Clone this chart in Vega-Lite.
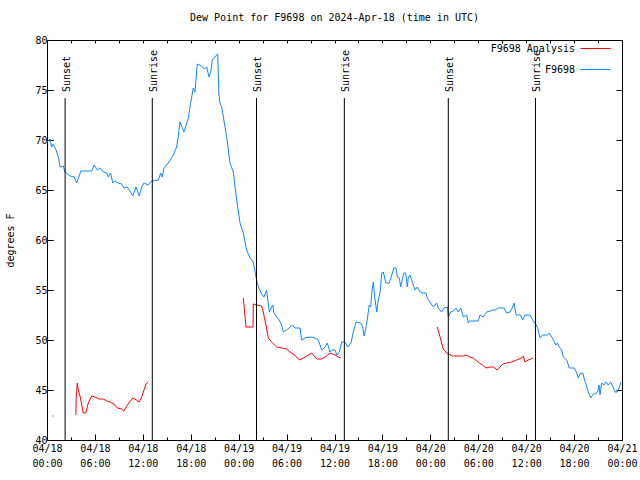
{
"$schema": "https://vega.github.io/schema/vega-lite/v6.json",
"width": 575, "height": 400,
"autosize": "none",
"padding": {"left": 47, "top": 40, "right": 18, "bottom": 40},
"background": "white",
"config": {"view": {"stroke": "#000", "strokeWidth": 1}, "font": "DejaVu Sans Mono",
  "axis": {"labelFont": "DejaVu Sans Mono", "labelFontSize": 10, "labelColor": "#000", "tickColor": "#000", "domain": false, "grid": false, "titleFont": "DejaVu Sans Mono", "titleFontSize": 10, "titleFontWeight": "normal", "titleColor": "#000"}},
"title": {"text": "Dew Point for F9698 on 2024-Apr-18 (time in UTC)", "fontSize": 10, "fontWeight": "normal", "font": "DejaVu Sans Mono", "color": "#000", "offset": 10},
"datasets": {
"obs": [
{"t":"2024-04-18T00:00:00Z","v":69.8,"s":"F9698","g":"b"},
{"t":"2024-04-18T00:23:00Z","v":70.1,"s":"F9698","g":"b"},
{"t":"2024-04-18T00:35:00Z","v":69.3,"s":"F9698","g":"b"},
{"t":"2024-04-18T00:47:00Z","v":69.6,"s":"F9698","g":"b"},
{"t":"2024-04-18T01:08:00Z","v":69.0,"s":"F9698","g":"b"},
{"t":"2024-04-18T01:25:00Z","v":68.3,"s":"F9698","g":"b"},
{"t":"2024-04-18T01:38:00Z","v":67.3,"s":"F9698","g":"b"},
{"t":"2024-04-18T02:02:00Z","v":67.4,"s":"F9698","g":"b"},
{"t":"2024-04-18T02:15:00Z","v":66.8,"s":"F9698","g":"b"},
{"t":"2024-04-18T02:53:00Z","v":66.4,"s":"F9698","g":"b"},
{"t":"2024-04-18T03:25:00Z","v":66.3,"s":"F9698","g":"b"},
{"t":"2024-04-18T03:43:00Z","v":65.7,"s":"F9698","g":"b"},
{"t":"2024-04-18T04:15:00Z","v":66.9,"s":"F9698","g":"b"},
{"t":"2024-04-18T05:36:00Z","v":66.9,"s":"F9698","g":"b"},
{"t":"2024-04-18T05:55:00Z","v":67.5,"s":"F9698","g":"b"},
{"t":"2024-04-18T06:18:00Z","v":67.0,"s":"F9698","g":"b"},
{"t":"2024-04-18T06:38:00Z","v":67.2,"s":"F9698","g":"b"},
{"t":"2024-04-18T07:03:00Z","v":66.8,"s":"F9698","g":"b"},
{"t":"2024-04-18T07:29:00Z","v":66.7,"s":"F9698","g":"b"},
{"t":"2024-04-18T07:41:00Z","v":66.3,"s":"F9698","g":"b"},
{"t":"2024-04-18T07:58:00Z","v":66.7,"s":"F9698","g":"b"},
{"t":"2024-04-18T08:14:00Z","v":65.7,"s":"F9698","g":"b"},
{"t":"2024-04-18T08:31:00Z","v":65.9,"s":"F9698","g":"b"},
{"t":"2024-04-18T08:56:00Z","v":65.7,"s":"F9698","g":"b"},
{"t":"2024-04-18T09:21:00Z","v":65.6,"s":"F9698","g":"b"},
{"t":"2024-04-18T09:38:00Z","v":65.2,"s":"F9698","g":"b"},
{"t":"2024-04-18T10:03:00Z","v":65.3,"s":"F9698","g":"b"},
{"t":"2024-04-18T10:24:00Z","v":64.9,"s":"F9698","g":"b"},
{"t":"2024-04-18T10:44:00Z","v":64.4,"s":"F9698","g":"b"},
{"t":"2024-04-18T11:09:00Z","v":65.3,"s":"F9698","g":"b"},
{"t":"2024-04-18T11:33:00Z","v":64.4,"s":"F9698","g":"b"},
{"t":"2024-04-18T11:51:00Z","v":65.3,"s":"F9698","g":"b"},
{"t":"2024-04-18T12:09:00Z","v":65.7,"s":"F9698","g":"b"},
{"t":"2024-04-18T12:41:00Z","v":65.5,"s":"F9698","g":"b"},
{"t":"2024-04-18T13:07:00Z","v":65.9,"s":"F9698","g":"b"},
{"t":"2024-04-18T13:56:00Z","v":66.0,"s":"F9698","g":"b"},
{"t":"2024-04-18T14:14:00Z","v":66.7,"s":"F9698","g":"b"},
{"t":"2024-04-18T14:26:00Z","v":66.3,"s":"F9698","g":"b"},
{"t":"2024-04-18T14:39:00Z","v":67.2,"s":"F9698","g":"b"},
{"t":"2024-04-18T15:11:00Z","v":67.7,"s":"F9698","g":"b"},
{"t":"2024-04-18T15:49:00Z","v":68.5,"s":"F9698","g":"b"},
{"t":"2024-04-18T16:14:00Z","v":69.3,"s":"F9698","g":"b"},
{"t":"2024-04-18T16:26:00Z","v":70.3,"s":"F9698","g":"b"},
{"t":"2024-04-18T16:39:00Z","v":71.8,"s":"F9698","g":"b"},
{"t":"2024-04-18T17:09:00Z","v":70.8,"s":"F9698","g":"b"},
{"t":"2024-04-18T17:42:00Z","v":72.2,"s":"F9698","g":"b"},
{"t":"2024-04-18T17:54:00Z","v":73.3,"s":"F9698","g":"b"},
{"t":"2024-04-18T18:19:00Z","v":75.2,"s":"F9698","g":"b"},
{"t":"2024-04-18T18:32:00Z","v":74.8,"s":"F9698","g":"b"},
{"t":"2024-04-18T18:49:00Z","v":77.6,"s":"F9698","g":"b"},
{"t":"2024-04-18T19:22:00Z","v":77.4,"s":"F9698","g":"b"},
{"t":"2024-04-18T19:42:00Z","v":77.1,"s":"F9698","g":"b"},
{"t":"2024-04-18T20:00:00Z","v":77.3,"s":"F9698","g":"b"},
{"t":"2024-04-18T20:17:00Z","v":76.3,"s":"F9698","g":"b"},
{"t":"2024-04-18T20:30:00Z","v":76.8,"s":"F9698","g":"b"},
{"t":"2024-04-18T20:42:00Z","v":78.0,"s":"F9698","g":"b"},
{"t":"2024-04-18T21:02:00Z","v":78.3,"s":"F9698","g":"b"},
{"t":"2024-04-18T21:15:00Z","v":78.5,"s":"F9698","g":"b"},
{"t":"2024-04-18T21:22:00Z","v":78.6,"s":"F9698","g":"b"},
{"t":"2024-04-18T21:32:00Z","v":74.5,"s":"F9698","g":"b"},
{"t":"2024-04-18T21:40:00Z","v":73.7,"s":"F9698","g":"b"},
{"t":"2024-04-18T21:53:00Z","v":73.3,"s":"F9698","g":"b"},
{"t":"2024-04-18T22:05:00Z","v":72.3,"s":"F9698","g":"b"},
{"t":"2024-04-18T22:30:00Z","v":70.3,"s":"F9698","g":"b"},
{"t":"2024-04-18T22:55:00Z","v":67.7,"s":"F9698","g":"b"},
{"t":"2024-04-18T23:20:00Z","v":66.8,"s":"F9698","g":"b"},
{"t":"2024-04-18T23:45:00Z","v":64.0,"s":"F9698","g":"b"},
{"t":"2024-04-19T00:05:00Z","v":62.2,"s":"F9698","g":"b"},
{"t":"2024-04-19T00:10:00Z","v":61.7,"s":"F9698","g":"b"},
{"t":"2024-04-19T00:35:00Z","v":60.7,"s":"F9698","g":"b"},
{"t":"2024-04-19T01:00:00Z","v":59.0,"s":"F9698","g":"b"},
{"t":"2024-04-19T01:25:00Z","v":58.2,"s":"F9698","g":"b"},
{"t":"2024-04-19T01:50:00Z","v":57.8,"s":"F9698","g":"b"},
{"t":"2024-04-19T02:10:00Z","v":56.3,"s":"F9698","g":"b"},
{"t":"2024-04-19T02:28:00Z","v":55.3,"s":"F9698","g":"b"},
{"t":"2024-04-19T02:53:00Z","v":54.6,"s":"F9698","g":"b"},
{"t":"2024-04-19T03:10:00Z","v":54.3,"s":"F9698","g":"b"},
{"t":"2024-04-19T03:30:00Z","v":55.0,"s":"F9698","g":"b"},
{"t":"2024-04-19T03:50:00Z","v":52.8,"s":"F9698","g":"b"},
{"t":"2024-04-19T04:16:00Z","v":53.5,"s":"F9698","g":"b"},
{"t":"2024-04-19T04:25:00Z","v":52.7,"s":"F9698","g":"b"},
{"t":"2024-04-19T04:46:00Z","v":52.3,"s":"F9698","g":"b"},
{"t":"2024-04-19T05:05:00Z","v":52.0,"s":"F9698","g":"b"},
{"t":"2024-04-19T05:23:00Z","v":51.5,"s":"F9698","g":"b"},
{"t":"2024-04-19T05:35:00Z","v":50.8,"s":"F9698","g":"b"},
{"t":"2024-04-19T06:01:00Z","v":51.0,"s":"F9698","g":"b"},
{"t":"2024-04-19T06:26:00Z","v":51.3,"s":"F9698","g":"b"},
{"t":"2024-04-19T06:46:00Z","v":51.5,"s":"F9698","g":"b"},
{"t":"2024-04-19T07:03:00Z","v":51.2,"s":"F9698","g":"b"},
{"t":"2024-04-19T07:41:00Z","v":51.2,"s":"F9698","g":"b"},
{"t":"2024-04-19T07:53:00Z","v":50.0,"s":"F9698","g":"b"},
{"t":"2024-04-19T08:18:00Z","v":50.2,"s":"F9698","g":"b"},
{"t":"2024-04-19T08:56:00Z","v":50.3,"s":"F9698","g":"b"},
{"t":"2024-04-19T09:33:00Z","v":50.2,"s":"F9698","g":"b"},
{"t":"2024-04-19T09:58:00Z","v":50.0,"s":"F9698","g":"b"},
{"t":"2024-04-19T10:24:00Z","v":49.0,"s":"F9698","g":"b"},
{"t":"2024-04-19T10:49:00Z","v":49.3,"s":"F9698","g":"b"},
{"t":"2024-04-19T11:06:00Z","v":49.7,"s":"F9698","g":"b"},
{"t":"2024-04-19T11:26:00Z","v":48.8,"s":"F9698","g":"b"},
{"t":"2024-04-19T11:39:00Z","v":49.0,"s":"F9698","g":"b"},
{"t":"2024-04-19T12:04:00Z","v":49.0,"s":"F9698","g":"b"},
{"t":"2024-04-19T12:17:00Z","v":48.5,"s":"F9698","g":"b"},
{"t":"2024-04-19T12:36:00Z","v":48.8,"s":"F9698","g":"b"},
{"t":"2024-04-19T12:54:00Z","v":49.8,"s":"F9698","g":"b"},
{"t":"2024-04-19T13:19:00Z","v":49.8,"s":"F9698","g":"b"},
{"t":"2024-04-19T13:39:00Z","v":49.3,"s":"F9698","g":"b"},
{"t":"2024-04-19T14:04:00Z","v":49.7,"s":"F9698","g":"b"},
{"t":"2024-04-19T14:21:00Z","v":50.8,"s":"F9698","g":"b"},
{"t":"2024-04-19T14:42:00Z","v":51.8,"s":"F9698","g":"b"},
{"t":"2024-04-19T15:17:00Z","v":51.7,"s":"F9698","g":"b"},
{"t":"2024-04-19T15:32:00Z","v":51.3,"s":"F9698","g":"b"},
{"t":"2024-04-19T15:42:00Z","v":50.4,"s":"F9698","g":"b"},
{"t":"2024-04-19T15:57:00Z","v":51.3,"s":"F9698","g":"b"},
{"t":"2024-04-19T16:06:00Z","v":52.0,"s":"F9698","g":"b"},
{"t":"2024-04-19T16:21:00Z","v":53.5,"s":"F9698","g":"b"},
{"t":"2024-04-19T16:32:00Z","v":53.3,"s":"F9698","g":"b"},
{"t":"2024-04-19T16:42:00Z","v":55.0,"s":"F9698","g":"b"},
{"t":"2024-04-19T16:52:00Z","v":55.8,"s":"F9698","g":"b"},
{"t":"2024-04-19T17:02:00Z","v":54.3,"s":"F9698","g":"b"},
{"t":"2024-04-19T17:17:00Z","v":52.8,"s":"F9698","g":"b"},
{"t":"2024-04-19T17:29:00Z","v":54.0,"s":"F9698","g":"b"},
{"t":"2024-04-19T17:42:00Z","v":54.7,"s":"F9698","g":"b"},
{"t":"2024-04-19T17:55:00Z","v":56.7,"s":"F9698","g":"b"},
{"t":"2024-04-19T18:07:00Z","v":56.8,"s":"F9698","g":"b"},
{"t":"2024-04-19T18:25:00Z","v":55.7,"s":"F9698","g":"b"},
{"t":"2024-04-19T18:52:00Z","v":55.7,"s":"F9698","g":"b"},
{"t":"2024-04-19T19:10:00Z","v":56.5,"s":"F9698","g":"b"},
{"t":"2024-04-19T19:27:00Z","v":57.2,"s":"F9698","g":"b"},
{"t":"2024-04-19T19:42:00Z","v":57.2,"s":"F9698","g":"b"},
{"t":"2024-04-19T19:52:00Z","v":56.3,"s":"F9698","g":"b"},
{"t":"2024-04-19T20:07:00Z","v":56.2,"s":"F9698","g":"b"},
{"t":"2024-04-19T20:17:00Z","v":55.3,"s":"F9698","g":"b"},
{"t":"2024-04-19T20:32:00Z","v":56.2,"s":"F9698","g":"b"},
{"t":"2024-04-19T20:42:00Z","v":56.7,"s":"F9698","g":"b"},
{"t":"2024-04-19T20:55:00Z","v":56.7,"s":"F9698","g":"b"},
{"t":"2024-04-19T21:07:00Z","v":55.3,"s":"F9698","g":"b"},
{"t":"2024-04-19T21:14:00Z","v":56.2,"s":"F9698","g":"b"},
{"t":"2024-04-19T21:27:00Z","v":56.5,"s":"F9698","g":"b"},
{"t":"2024-04-19T21:47:00Z","v":55.7,"s":"F9698","g":"b"},
{"t":"2024-04-19T22:05:00Z","v":55.0,"s":"F9698","g":"b"},
{"t":"2024-04-19T22:22:00Z","v":55.3,"s":"F9698","g":"b"},
{"t":"2024-04-19T22:42:00Z","v":54.8,"s":"F9698","g":"b"},
{"t":"2024-04-19T23:03:00Z","v":54.7,"s":"F9698","g":"b"},
{"t":"2024-04-19T23:27:00Z","v":54.7,"s":"F9698","g":"b"},
{"t":"2024-04-19T23:37:00Z","v":54.2,"s":"F9698","g":"b"},
{"t":"2024-04-19T23:57:00Z","v":53.8,"s":"F9698","g":"b"},
{"t":"2024-04-20T00:22:00Z","v":53.3,"s":"F9698","g":"b"},
{"t":"2024-04-20T00:48:00Z","v":53.7,"s":"F9698","g":"b"},
{"t":"2024-04-20T01:00:00Z","v":53.2,"s":"F9698","g":"b"},
{"t":"2024-04-20T01:25:00Z","v":52.8,"s":"F9698","g":"b"},
{"t":"2024-04-20T01:43:00Z","v":53.2,"s":"F9698","g":"b"},
{"t":"2024-04-20T02:08:00Z","v":53.3,"s":"F9698","g":"b"},
{"t":"2024-04-20T02:15:00Z","v":52.3,"s":"F9698","g":"b"},
{"t":"2024-04-20T02:33:00Z","v":52.8,"s":"F9698","g":"b"},
{"t":"2024-04-20T02:53:00Z","v":52.9,"s":"F9698","g":"b"},
{"t":"2024-04-20T03:13:00Z","v":53.2,"s":"F9698","g":"b"},
{"t":"2024-04-20T03:30:00Z","v":52.8,"s":"F9698","g":"b"},
{"t":"2024-04-20T03:48:00Z","v":53.2,"s":"F9698","g":"b"},
{"t":"2024-04-20T04:08:00Z","v":52.3,"s":"F9698","g":"b"},
{"t":"2024-04-20T04:33:00Z","v":52.5,"s":"F9698","g":"b"},
{"t":"2024-04-20T04:45:00Z","v":51.7,"s":"F9698","g":"b"},
{"t":"2024-04-20T04:53:00Z","v":51.9,"s":"F9698","g":"b"},
{"t":"2024-04-20T06:00:00Z","v":51.9,"s":"F9698","g":"b"},
{"t":"2024-04-20T06:13:00Z","v":52.5,"s":"F9698","g":"b"},
{"t":"2024-04-20T06:38:00Z","v":52.3,"s":"F9698","g":"b"},
{"t":"2024-04-20T07:03:00Z","v":52.8,"s":"F9698","g":"b"},
{"t":"2024-04-20T07:28:00Z","v":52.9,"s":"F9698","g":"b"},
{"t":"2024-04-20T07:49:00Z","v":53.0,"s":"F9698","g":"b"},
{"t":"2024-04-20T08:06:00Z","v":53.0,"s":"F9698","g":"b"},
{"t":"2024-04-20T08:31:00Z","v":53.2,"s":"F9698","g":"b"},
{"t":"2024-04-20T09:14:00Z","v":53.2,"s":"F9698","g":"b"},
{"t":"2024-04-20T09:34:00Z","v":52.7,"s":"F9698","g":"b"},
{"t":"2024-04-20T09:59:00Z","v":52.8,"s":"F9698","g":"b"},
{"t":"2024-04-20T10:19:00Z","v":53.3,"s":"F9698","g":"b"},
{"t":"2024-04-20T10:29:00Z","v":53.7,"s":"F9698","g":"b"},
{"t":"2024-04-20T10:44:00Z","v":52.5,"s":"F9698","g":"b"},
{"t":"2024-04-20T11:19:00Z","v":52.5,"s":"F9698","g":"b"},
{"t":"2024-04-20T11:34:00Z","v":52.0,"s":"F9698","g":"b"},
{"t":"2024-04-20T11:51:00Z","v":52.5,"s":"F9698","g":"b"},
{"t":"2024-04-20T12:29:00Z","v":52.5,"s":"F9698","g":"b"},
{"t":"2024-04-20T12:49:00Z","v":52.0,"s":"F9698","g":"b"},
{"t":"2024-04-20T13:06:00Z","v":51.7,"s":"F9698","g":"b"},
{"t":"2024-04-20T13:24:00Z","v":51.3,"s":"F9698","g":"b"},
{"t":"2024-04-20T13:44:00Z","v":50.2,"s":"F9698","g":"b"},
{"t":"2024-04-20T14:04:00Z","v":50.5,"s":"F9698","g":"b"},
{"t":"2024-04-20T14:39:00Z","v":50.5,"s":"F9698","g":"b"},
{"t":"2024-04-20T14:54:00Z","v":50.7,"s":"F9698","g":"b"},
{"t":"2024-04-20T15:12:00Z","v":50.3,"s":"F9698","g":"b"},
{"t":"2024-04-20T15:24:00Z","v":50.0,"s":"F9698","g":"b"},
{"t":"2024-04-20T15:44:00Z","v":49.5,"s":"F9698","g":"b"},
{"t":"2024-04-20T15:54:00Z","v":49.7,"s":"F9698","g":"b"},
{"t":"2024-04-20T16:09:00Z","v":49.3,"s":"F9698","g":"b"},
{"t":"2024-04-20T16:27:00Z","v":49.0,"s":"F9698","g":"b"},
{"t":"2024-04-20T16:39:00Z","v":48.3,"s":"F9698","g":"b"},
{"t":"2024-04-20T17:05:00Z","v":48.0,"s":"F9698","g":"b"},
{"t":"2024-04-20T17:24:00Z","v":47.2,"s":"F9698","g":"b"},
{"t":"2024-04-20T18:02:00Z","v":47.2,"s":"F9698","g":"b"},
{"t":"2024-04-20T18:20:00Z","v":46.7,"s":"F9698","g":"b"},
{"t":"2024-04-20T18:32:00Z","v":46.2,"s":"F9698","g":"b"},
{"t":"2024-04-20T18:44:00Z","v":46.6,"s":"F9698","g":"b"},
{"t":"2024-04-20T19:05:00Z","v":46.7,"s":"F9698","g":"b"},
{"t":"2024-04-20T19:15:00Z","v":46.2,"s":"F9698","g":"b"},
{"t":"2024-04-20T19:35:00Z","v":45.3,"s":"F9698","g":"b"},
{"t":"2024-04-20T19:47:00Z","v":44.8,"s":"F9698","g":"b"},
{"t":"2024-04-20T20:05:00Z","v":44.2,"s":"F9698","g":"b"},
{"t":"2024-04-20T20:24:00Z","v":44.6,"s":"F9698","g":"b"},
{"t":"2024-04-20T20:45:00Z","v":44.7,"s":"F9698","g":"b"},
{"t":"2024-04-20T20:57:00Z","v":44.8,"s":"F9698","g":"b"},
{"t":"2024-04-20T21:07:00Z","v":45.5,"s":"F9698","g":"b"},
{"t":"2024-04-20T21:15:00Z","v":44.5,"s":"F9698","g":"b"},
{"t":"2024-04-20T21:27:00Z","v":45.7,"s":"F9698","g":"b"},
{"t":"2024-04-20T21:45:00Z","v":45.5,"s":"F9698","g":"b"},
{"t":"2024-04-20T22:00:00Z","v":45.8,"s":"F9698","g":"b"},
{"t":"2024-04-20T22:17:00Z","v":45.5,"s":"F9698","g":"b"},
{"t":"2024-04-20T22:35:00Z","v":45.8,"s":"F9698","g":"b"},
{"t":"2024-04-20T22:50:00Z","v":45.4,"s":"F9698","g":"b"},
{"t":"2024-04-20T23:07:00Z","v":44.8,"s":"F9698","g":"b"},
{"t":"2024-04-20T23:25:00Z","v":44.8,"s":"F9698","g":"b"},
{"t":"2024-04-20T23:40:00Z","v":45.3,"s":"F9698","g":"b"},
{"t":"2024-04-20T23:50:00Z","v":45.7,"s":"F9698","g":"b"},
{"t":"2024-04-20T23:55:00Z","v":45.8,"s":"F9698","g":"b"},
{"t":"2024-04-18T00:40:00Z","v":42.4,"s":"F9698 Analysis","g":"r1"},
{"t":"2024-04-18T00:48:00Z","v":42.4,"s":"F9698 Analysis","g":"r1"},
{"t":"2024-04-18T03:37:00Z","v":42.5,"s":"F9698 Analysis","g":"r2"},
{"t":"2024-04-18T03:39:00Z","v":44.1,"s":"F9698 Analysis","g":"r2"},
{"t":"2024-04-18T03:48:00Z","v":45.7,"s":"F9698 Analysis","g":"r2"},
{"t":"2024-04-18T03:55:00Z","v":45.0,"s":"F9698 Analysis","g":"r2"},
{"t":"2024-04-18T04:08:00Z","v":44.4,"s":"F9698 Analysis","g":"r2"},
{"t":"2024-04-18T04:21:00Z","v":43.5,"s":"F9698 Analysis","g":"r2"},
{"t":"2024-04-18T04:33:00Z","v":42.7,"s":"F9698 Analysis","g":"r2"},
{"t":"2024-04-18T04:51:00Z","v":42.7,"s":"F9698 Analysis","g":"r2"},
{"t":"2024-04-18T05:10:00Z","v":43.7,"s":"F9698 Analysis","g":"r2"},
{"t":"2024-04-18T05:36:00Z","v":44.4,"s":"F9698 Analysis","g":"r2"},
{"t":"2024-04-18T06:01:00Z","v":44.3,"s":"F9698 Analysis","g":"r2"},
{"t":"2024-04-18T06:33:00Z","v":44.1,"s":"F9698 Analysis","g":"r2"},
{"t":"2024-04-18T07:03:00Z","v":44.1,"s":"F9698 Analysis","g":"r2"},
{"t":"2024-04-18T07:29:00Z","v":43.9,"s":"F9698 Analysis","g":"r2"},
{"t":"2024-04-18T07:53:00Z","v":43.8,"s":"F9698 Analysis","g":"r2"},
{"t":"2024-04-18T08:23:00Z","v":43.6,"s":"F9698 Analysis","g":"r2"},
{"t":"2024-04-18T08:48:00Z","v":43.2,"s":"F9698 Analysis","g":"r2"},
{"t":"2024-04-18T09:21:00Z","v":43.1,"s":"F9698 Analysis","g":"r2"},
{"t":"2024-04-18T09:38:00Z","v":42.9,"s":"F9698 Analysis","g":"r2"},
{"t":"2024-04-18T10:03:00Z","v":43.5,"s":"F9698 Analysis","g":"r2"},
{"t":"2024-04-18T10:44:00Z","v":44.2,"s":"F9698 Analysis","g":"r2"},
{"t":"2024-04-18T11:14:00Z","v":44.0,"s":"F9698 Analysis","g":"r2"},
{"t":"2024-04-18T11:33:00Z","v":43.8,"s":"F9698 Analysis","g":"r2"},
{"t":"2024-04-18T11:51:00Z","v":44.3,"s":"F9698 Analysis","g":"r2"},
{"t":"2024-04-18T12:09:00Z","v":45.0,"s":"F9698 Analysis","g":"r2"},
{"t":"2024-04-18T12:24:00Z","v":45.6,"s":"F9698 Analysis","g":"r2"},
{"t":"2024-04-18T12:41:00Z","v":45.8,"s":"F9698 Analysis","g":"r2"},
{"t":"2024-04-19T00:35:00Z","v":54.2,"s":"F9698 Analysis","g":"r3"},
{"t":"2024-04-19T00:55:00Z","v":51.3,"s":"F9698 Analysis","g":"r3"},
{"t":"2024-04-19T01:48:00Z","v":51.3,"s":"F9698 Analysis","g":"r3"},
{"t":"2024-04-19T01:50:00Z","v":53.6,"s":"F9698 Analysis","g":"r3"},
{"t":"2024-04-19T02:15:00Z","v":53.5,"s":"F9698 Analysis","g":"r3"},
{"t":"2024-04-19T02:53:00Z","v":53.4,"s":"F9698 Analysis","g":"r3"},
{"t":"2024-04-19T03:05:00Z","v":52.8,"s":"F9698 Analysis","g":"r3"},
{"t":"2024-04-19T03:25:00Z","v":51.5,"s":"F9698 Analysis","g":"r3"},
{"t":"2024-04-19T03:43:00Z","v":50.2,"s":"F9698 Analysis","g":"r3"},
{"t":"2024-04-19T04:08:00Z","v":49.8,"s":"F9698 Analysis","g":"r3"},
{"t":"2024-04-19T04:46:00Z","v":49.3,"s":"F9698 Analysis","g":"r3"},
{"t":"2024-04-19T05:23:00Z","v":49.2,"s":"F9698 Analysis","g":"r3"},
{"t":"2024-04-19T06:01:00Z","v":49.1,"s":"F9698 Analysis","g":"r3"},
{"t":"2024-04-19T06:26:00Z","v":48.8,"s":"F9698 Analysis","g":"r3"},
{"t":"2024-04-19T06:50:00Z","v":48.6,"s":"F9698 Analysis","g":"r3"},
{"t":"2024-04-19T07:16:00Z","v":48.3,"s":"F9698 Analysis","g":"r3"},
{"t":"2024-04-19T07:36:00Z","v":48.0,"s":"F9698 Analysis","g":"r3"},
{"t":"2024-04-19T07:53:00Z","v":48.1,"s":"F9698 Analysis","g":"r3"},
{"t":"2024-04-19T08:31:00Z","v":48.4,"s":"F9698 Analysis","g":"r3"},
{"t":"2024-04-19T09:09:00Z","v":48.7,"s":"F9698 Analysis","g":"r3"},
{"t":"2024-04-19T09:21:00Z","v":48.5,"s":"F9698 Analysis","g":"r3"},
{"t":"2024-04-19T09:46:00Z","v":48.1,"s":"F9698 Analysis","g":"r3"},
{"t":"2024-04-19T10:24:00Z","v":48.1,"s":"F9698 Analysis","g":"r3"},
{"t":"2024-04-19T11:01:00Z","v":48.4,"s":"F9698 Analysis","g":"r3"},
{"t":"2024-04-19T11:26:00Z","v":48.7,"s":"F9698 Analysis","g":"r3"},
{"t":"2024-04-19T12:04:00Z","v":48.5,"s":"F9698 Analysis","g":"r3"},
{"t":"2024-04-19T12:29:00Z","v":48.3,"s":"F9698 Analysis","g":"r3"},
{"t":"2024-04-19T12:47:00Z","v":48.2,"s":"F9698 Analysis","g":"r3"},
{"t":"2024-04-20T00:52:00Z","v":51.3,"s":"F9698 Analysis","g":"r4"},
{"t":"2024-04-20T01:13:00Z","v":50.3,"s":"F9698 Analysis","g":"r4"},
{"t":"2024-04-20T01:37:00Z","v":49.1,"s":"F9698 Analysis","g":"r4"},
{"t":"2024-04-20T02:03:00Z","v":48.7,"s":"F9698 Analysis","g":"r4"},
{"t":"2024-04-20T02:48:00Z","v":48.4,"s":"F9698 Analysis","g":"r4"},
{"t":"2024-04-20T04:08:00Z","v":48.4,"s":"F9698 Analysis","g":"r4"},
{"t":"2024-04-20T04:28:00Z","v":48.5,"s":"F9698 Analysis","g":"r4"},
{"t":"2024-04-20T04:58:00Z","v":48.3,"s":"F9698 Analysis","g":"r4"},
{"t":"2024-04-20T05:23:00Z","v":48.2,"s":"F9698 Analysis","g":"r4"},
{"t":"2024-04-20T06:08:00Z","v":47.7,"s":"F9698 Analysis","g":"r4"},
{"t":"2024-04-20T06:33:00Z","v":47.5,"s":"F9698 Analysis","g":"r4"},
{"t":"2024-04-20T06:58:00Z","v":47.2,"s":"F9698 Analysis","g":"r4"},
{"t":"2024-04-20T07:28:00Z","v":47.3,"s":"F9698 Analysis","g":"r4"},
{"t":"2024-04-20T07:53:00Z","v":47.3,"s":"F9698 Analysis","g":"r4"},
{"t":"2024-04-20T08:23:00Z","v":47.0,"s":"F9698 Analysis","g":"r4"},
{"t":"2024-04-20T08:43:00Z","v":47.3,"s":"F9698 Analysis","g":"r4"},
{"t":"2024-04-20T09:08:00Z","v":47.6,"s":"F9698 Analysis","g":"r4"},
{"t":"2024-04-20T09:34:00Z","v":47.7,"s":"F9698 Analysis","g":"r4"},
{"t":"2024-04-20T10:11:00Z","v":47.8,"s":"F9698 Analysis","g":"r4"},
{"t":"2024-04-20T10:49:00Z","v":48.0,"s":"F9698 Analysis","g":"r4"},
{"t":"2024-04-20T11:26:00Z","v":48.2,"s":"F9698 Analysis","g":"r4"},
{"t":"2024-04-20T11:39:00Z","v":48.4,"s":"F9698 Analysis","g":"r4"},
{"t":"2024-04-20T11:51:00Z","v":47.8,"s":"F9698 Analysis","g":"r4"},
{"t":"2024-04-20T12:16:00Z","v":48.0,"s":"F9698 Analysis","g":"r4"},
{"t":"2024-04-20T12:54:00Z","v":48.2,"s":"F9698 Analysis","g":"r4"}
],
"sun": [
{"t":"2024-04-18T02:16:00Z","label":"Sunset"},
{"t":"2024-04-18T13:11:00Z","label":"Sunrise"},
{"t":"2024-04-19T02:14:00Z","label":"Sunset"},
{"t":"2024-04-19T13:14:00Z","label":"Sunrise"},
{"t":"2024-04-20T02:15:00Z","label":"Sunset"},
{"t":"2024-04-20T13:10:00Z","label":"Sunrise"}
]
},
"layer": [
{"data": {"name": "obs"},
 "mark": {"type": "line", "strokeWidth": 1, "interpolate": "linear"},
 "encoding": {
  "x": {"field": "t", "type": "temporal", "title": null,
    "scale": {"type": "utc", "domain": [{"year": 2024, "month": 4, "date": 18, "utc": true}, {"year": 2024, "month": 4, "date": 21, "utc": true}]},
    "axis": {"orient": "bottom", "tickCount": 12,
      "labelExpr": "[utcFormat(datum.value, '%m/%d'), utcFormat(datum.value, '%H:%M')]",
      "tickSize": -6,
      "labelPadding": 9, "labelLineHeight": 15, "labelOverlap": false, "labelFlush": false, "labelBound": false, "labelBaseline": "top"}},
  "y": {"field": "v", "type": "quantitative", "title": "degrees F", "scale": {"domain": [40, 80], "nice": false, "zero": false},
    "axis": {"orient": "left", "values": [40, 45, 50, 55, 60, 65, 70, 75, 80], "tickSize": -6, "labelPadding": 6, "titlePadding": 19}},
  "color": {"field": "s", "type": "nominal",
    "scale": {"domain": ["F9698 Analysis", "F9698"], "range": ["#ff0000", "#0f87ff"]},
    "legend": {"orient": "none", "legendX": 533, "legendY": -7, "title": null, "symbolType": "stroke", "symbolSize": 900, "symbolStrokeWidth": 1, "labelAlign": "right", "labelOffset": -36, "labelFont": "DejaVu Sans Mono", "labelFontSize": 10, "labelColor": "#000", "padding": 0, "rowPadding": -14}},
  "detail": {"field": "g"}
 }},
{"data": {"name": "sun"},
 "mark": {"type": "rule", "color": "#000", "strokeWidth": 1},
 "encoding": {
  "x": {"field": "t", "type": "temporal", "title": null,
    "axis": {"orient": "top", "tickCount": 36, "labels": false, "tickSize": -3}},
  "y": {"datum": 74.2, "type": "quantitative", "title": null,
    "axis": {"orient": "right", "values": [40, 45, 50, 55, 60, 65, 70, 75, 80], "labels": false, "tickSize": -6}},
  "y2": {"datum": 40}
 }},
{"data": {"name": "sun"},
 "mark": {"type": "text", "angle": 270, "align": "left", "baseline": "middle", "fontSize": 10, "font": "DejaVu Sans Mono", "color": "#000", "dy": 1.5},
 "encoding": {
  "x": {"field": "t", "type": "temporal", "title": null,
    "axis": {"orient": "bottom", "tickCount": 36, "labels": false, "tickSize": -3}},
  "y": {"datum": 74.8, "type": "quantitative", "title": null,
    "axis": {"orient": "left", "values": [40, 45, 50, 55, 60, 65, 70, 75, 80], "labels": false, "tickSize": -6}},
  "text": {"field": "label"}
 }}
],
"resolve": {"axis": {"x": "independent", "y": "independent"}}
}
